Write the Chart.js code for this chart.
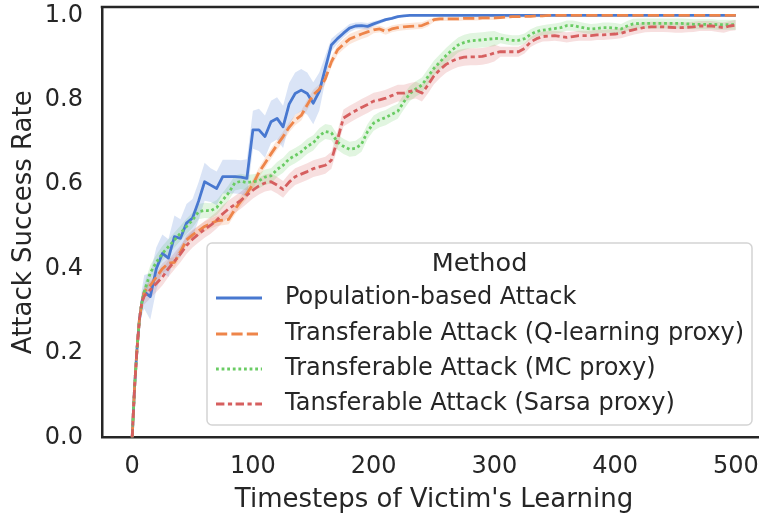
<!DOCTYPE html>
<html>
<head>
<meta charset="utf-8">
<script src="https://cdn.jsdelivr.net/npm/chart.js@4.4.1/dist/chart.umd.min.js"></script>
<style>
  html, body { margin: 0; padding: 0; background: #ffffff; overflow: hidden; }
  #wrap { width: 790px; height: 518px; }
</style>
</head>
<body>
<div id="wrap"><canvas id="chart" width="790" height="518"></canvas></div>
<script>
// Timesteps at which the attack success rate was measured
const steps = [0, 2, 4, 6, 8,
  10, 15, 20, 25, 30, 35, 40, 45, 50, 55, 60, 65, 70, 75, 80, 85, 90, 95, 100,
  105, 110, 115, 120, 125, 130, 135, 140, 145, 150, 155, 160, 165, 170, 175, 180, 185, 190, 195, 200,
  205, 210, 215, 220, 225, 230, 235, 240, 245, 250, 255, 260, 265, 270, 275, 280, 285, 290, 295, 300,
  305, 310, 315, 320, 325, 330, 335, 340, 345, 350, 355, 360, 365, 370, 375, 380, 385, 390, 395, 400,
  405, 410, 415, 420, 425, 430, 435, 440, 445, 450, 455, 460, 465, 470, 475, 480, 485, 490, 495, 500];

const methods = [
  'Population-based Attack',
  'Transferable Attack (Q-learning proxy)',
  'Transferable Attack (MC proxy)',
  'Tansferable Attack (Sarsa proxy)'
];

// Mean success rate per method
const populationMean = [0, 0.12, 0.21, 0.28, 0.32,
  0.345, 0.334, 0.40, 0.436, 0.425, 0.476, 0.472, 0.508, 0.52, 0.56,
  0.606, 0.598, 0.59, 0.618, 0.618, 0.618, 0.617, 0.614, 0.729, 0.729,
  0.713, 0.748, 0.756, 0.736, 0.79, 0.815, 0.823, 0.815, 0.792, 0.82,
  0.875, 0.93, 0.945, 0.958, 0.97, 0.975, 0.976, 0.974, 0.98, 0.985,
  0.99, 0.993, 0.997, 0.999,
  1, 1, 1, 1, 1, 1, 1, 1, 1, 1, 1,
  1, 1, 1, 1, 1, 1, 1, 1, 1, 1, 1,
  1, 1, 1, 1, 1, 1, 1, 1, 1, 1, 1,
  1, 1, 1, 1, 1, 1, 1, 1, 1, 1, 1,
  1, 1, 1, 1, 1, 1, 1, 1, 1, 1, 1];

const qLearningMean = [0, 0.12, 0.21, 0.28, 0.32,
  0.345, 0.36, 0.38, 0.40, 0.413, 0.415, 0.44, 0.468, 0.48, 0.49,
  0.50, 0.507, 0.513, 0.515, 0.517, 0.54, 0.56, 0.578, 0.60, 0.628,
  0.65, 0.672, 0.693, 0.713, 0.735, 0.752, 0.763, 0.788, 0.812, 0.825,
  0.85, 0.89, 0.918, 0.932, 0.944, 0.95, 0.956, 0.961, 0.966, 0.968,
  0.962, 0.968, 0.971, 0.973, 0.974, 0.975, 0.976, 0.982, 0.99, 0.992,
  0.992, 0.992, 0.992, 0.993, 0.993, 0.993, 0.994, 0.994, 0.994, 0.995,
  0.996, 0.997, 0.997, 0.998, 0.998, 0.999, 0.999,
  1, 1, 1, 1, 1, 1, 1, 1,
  1, 1, 1, 1, 1, 1, 1, 1,
  1, 1, 1, 1, 1, 1, 1, 1,
  1, 1, 1, 1, 1, 1, 1, 1];

const mcMean = [0, 0.12, 0.21, 0.28, 0.32,
  0.345, 0.39, 0.415, 0.436, 0.452, 0.468, 0.484, 0.5, 0.515, 0.535,
  0.538, 0.537, 0.545, 0.562, 0.58, 0.603, 0.607, 0.604, 0.606, 0.608,
  0.617, 0.62, 0.635, 0.645, 0.66, 0.668, 0.677, 0.69, 0.698, 0.715,
  0.725, 0.722, 0.70, 0.69, 0.683, 0.685, 0.695, 0.725, 0.745, 0.753,
  0.758, 0.766, 0.773, 0.795, 0.815, 0.826, 0.835, 0.855, 0.875, 0.89,
  0.905, 0.918, 0.93, 0.936, 0.94, 0.941, 0.942, 0.944, 0.945, 0.946,
  0.943, 0.941, 0.941, 0.945, 0.955, 0.962, 0.965, 0.967, 0.969, 0.971,
  0.976, 0.976, 0.973, 0.97, 0.968, 0.969, 0.971, 0.971, 0.97, 0.968,
  0.975, 0.98, 0.981, 0.981, 0.981, 0.981, 0.981, 0.981, 0.981, 0.981,
  0.98, 0.979, 0.979, 0.979, 0.979, 0.978, 0.978, 0.978, 0.978];

const sarsaMean = [0, 0.12, 0.21, 0.28, 0.32,
  0.335, 0.35, 0.365, 0.38, 0.40, 0.418, 0.435, 0.455, 0.47, 0.482,
  0.493, 0.503, 0.515, 0.53, 0.542, 0.552, 0.562, 0.574, 0.586, 0.596,
  0.603, 0.606, 0.598, 0.588, 0.605, 0.618, 0.624, 0.63, 0.637, 0.641,
  0.645, 0.657, 0.705, 0.757, 0.766, 0.774, 0.782, 0.789, 0.797, 0.80,
  0.804, 0.81, 0.816, 0.816, 0.82, 0.823, 0.816, 0.835, 0.857, 0.872,
  0.884, 0.892, 0.898, 0.901, 0.902, 0.902, 0.903, 0.906, 0.911, 0.914,
  0.914, 0.914, 0.914, 0.922, 0.937, 0.945, 0.95, 0.951, 0.952, 0.95,
  0.948, 0.95, 0.952, 0.952, 0.952, 0.954, 0.954, 0.955, 0.956, 0.958,
  0.962, 0.966, 0.969, 0.972, 0.973, 0.973, 0.973, 0.972, 0.971, 0.971,
  0.972, 0.973, 0.975, 0.975, 0.975, 0.973, 0.971, 0.975, 0.977];

// Half-width of the confidence band around each mean
const populationCi = [0, 0.005, 0.01, 0.02, 0.03,
  0.04, 0.055, 0.05, 0.045, 0.045, 0.05, 0.045, 0.045, 0.045, 0.045,
  0.045, 0.04, 0.04, 0.04, 0.04, 0.04, 0.04, 0.045, 0.045, 0.05,
  0.05, 0.05, 0.05, 0.05, 0.05, 0.05, 0.05, 0.05, 0.05, 0.045,
  0.03, 0.015, 0.012, 0.01, 0.01, 0.008, 0.008, 0.008, 0.006, 0.005,
  0.004, 0.003, 0.002, 0.001,
  0, 0, 0, 0, 0, 0, 0, 0, 0, 0, 0,
  0, 0, 0, 0, 0, 0, 0, 0, 0, 0, 0,
  0, 0, 0, 0, 0, 0, 0, 0, 0, 0, 0,
  0, 0, 0, 0, 0, 0, 0, 0, 0, 0, 0,
  0, 0, 0, 0, 0, 0, 0, 0, 0, 0, 0];

const qLearningCi = [0, 0.005, 0.01, 0.012, 0.012,
  0.012, 0.012, 0.012, 0.012, 0.012, 0.012, 0.012, 0.012, 0.012, 0.012,
  0.012, 0.012, 0.012, 0.012, 0.012, 0.012, 0.012, 0.012, 0.012, 0.012,
  0.012, 0.012, 0.012, 0.012, 0.012, 0.012, 0.012, 0.012, 0.012, 0.012,
  0.012, 0.012, 0.012, 0.012, 0.012, 0.012, 0.012, 0.012,
  0.008, 0.008, 0.008, 0.008, 0.008, 0.008, 0.008, 0.008, 0.008, 0.008,
  0.005, 0.005, 0.005, 0.005, 0.005, 0.005, 0.005, 0.005, 0.005, 0.005, 0.005,
  0.003, 0.003, 0.003, 0.003, 0.003, 0.003, 0.003, 0.003,
  0, 0, 0, 0, 0, 0, 0, 0,
  0, 0, 0, 0, 0, 0, 0, 0,
  0, 0, 0, 0, 0, 0, 0, 0,
  0, 0, 0, 0, 0, 0, 0, 0];

const mcCi = [0, 0.005, 0.01, 0.012, 0.015,
  0.018, 0.018, 0.018, 0.018, 0.018, 0.018, 0.018, 0.018, 0.018, 0.018,
  0.018, 0.018, 0.018, 0.018, 0.018, 0.018, 0.018, 0.018, 0.018, 0.018,
  0.018, 0.018, 0.018, 0.018, 0.018, 0.018, 0.018, 0.018, 0.018, 0.018,
  0.018, 0.018, 0.018, 0.018, 0.018, 0.018, 0.018, 0.018, 0.018, 0.018,
  0.018, 0.018, 0.018, 0.018, 0.018, 0.018, 0.018, 0.018, 0.018, 0.018,
  0.018, 0.018, 0.018, 0.018, 0.018, 0.018, 0.018, 0.018, 0.018,
  0.012, 0.012, 0.012, 0.012, 0.012, 0.012, 0.012, 0.012, 0.012, 0.012,
  0.012, 0.012, 0.012, 0.012, 0.012, 0.012, 0.012, 0.012, 0.012, 0.012,
  0.012, 0.012, 0.012, 0.012, 0.012, 0.012, 0.012, 0.012, 0.012, 0.012,
  0.012, 0.012, 0.012, 0.012, 0.012, 0.012, 0.012, 0.012, 0.012, 0.012];

const sarsaCi = [0, 0.005, 0.01, 0.015, 0.018,
  0.02, 0.02, 0.02, 0.02, 0.02, 0.02, 0.02, 0.02, 0.02, 0.02,
  0.02, 0.02, 0.02, 0.02, 0.02, 0.02, 0.02, 0.02, 0.02, 0.02,
  0.02, 0.02, 0.02, 0.02, 0.02, 0.02, 0.02, 0.02, 0.02, 0.02,
  0.02, 0.02, 0.02, 0.02, 0.02, 0.02, 0.02, 0.02, 0.02, 0.02,
  0.02, 0.02, 0.02, 0.02, 0.02, 0.02, 0.02, 0.02, 0.02, 0.02,
  0.02, 0.02, 0.02, 0.02, 0.02, 0.02, 0.02, 0.02, 0.02,
  0.012, 0.012, 0.012, 0.012, 0.012, 0.012, 0.012, 0.012, 0.012, 0.012,
  0.012, 0.012, 0.012, 0.012, 0.012, 0.012, 0.012, 0.012, 0.012, 0.012,
  0.012, 0.012, 0.012, 0.012, 0.012, 0.012, 0.012, 0.012, 0.012, 0.012,
  0.012, 0.012, 0.012, 0.012, 0.012, 0.012, 0.012, 0.012, 0.012, 0.012];

const xTicks = [0, 100, 200, 300, 400, 500];
const yTicks = [0, 0.2, 0.4, 0.6, 0.8, 1.0];
const xLabel = "Timesteps of Victim's Learning";
const yLabel = 'Attack Success Rate';
const legendTitle = 'Method';

const FONT = '"DejaVu Sans", "Liberation Sans", sans-serif';
const INK = '#262626';
const LINE_W = 2.8;

const styles = [
  { color: '#4878d0', band: 'rgba(72,120,208,0.2)',  dash: [] },
  { color: '#ee854a', band: 'rgba(238,133,74,0.2)',  dash: [4 * LINE_W, 1.5 * LINE_W] },
  { color: '#6acc64', band: 'rgba(106,204,100,0.2)', dash: [1 * LINE_W, 1 * LINE_W] },
  { color: '#d65f5f', band: 'rgba(214,95,95,0.2)',   dash: [3 * LINE_W, 1.25 * LINE_W, 1.5 * LINE_W, 1.25 * LINE_W] }
];
const means = [populationMean, qLearningMean, mcMean, sarsaMean];
const cis = [populationCi, qLearningCi, mcCi, sarsaCi];

const datasets = [];
// Mean lines: later methods drawn on top of earlier ones
means.forEach((m, i) => {
  datasets.push({
    label: methods[i],
    data: steps.map((x, k) => ({ x: x, y: m[k] })),
    borderColor: styles[i].color,
    backgroundColor: styles[i].color,
    borderWidth: LINE_W,
    borderDash: styles[i].dash,
    borderCapStyle: 'butt',
    borderJoinStyle: 'round',
    pointRadius: 0,
    fill: false,
    order: 4 - i,
    isMean: true
  });
});
// Confidence bands (upper edge, then lower edge filled up to it)
means.forEach((m, i) => {
  const upperIndex = datasets.length;
  datasets.push({
    label: methods[i] + ' upper',
    data: steps.map((x, k) => ({ x: x, y: m[k] + cis[i][k] })),
    borderWidth: 0,
    borderColor: 'rgba(0,0,0,0)',
    pointRadius: 0,
    fill: false,
    order: 20
  });
  datasets.push({
    label: methods[i] + ' lower',
    data: steps.map((x, k) => ({ x: x, y: m[k] - cis[i][k] })),
    borderWidth: 0,
    borderColor: 'rgba(0,0,0,0)',
    backgroundColor: styles[i].band,
    pointRadius: 0,
    fill: upperIndex,
    order: 20
  });
});

// Top and right spines of the axes box
const framePlugin = {
  id: 'frame',
  afterDraw(chart) {
    const { ctx, chartArea: a } = chart;
    ctx.save();
    ctx.strokeStyle = INK;
    ctx.lineWidth = 2.5;
    ctx.lineCap = 'square';
    ctx.beginPath();
    ctx.moveTo(a.left, a.top);
    ctx.lineTo(a.right, a.top);
    ctx.lineTo(a.right, a.bottom);
    ctx.stroke();
    ctx.restore();
  }
};

// Legend box with title, drawn inside the plot area
const legendPlugin = {
  id: 'methodLegend',
  afterDraw(chart) {
    const ctx = chart.ctx;
    const box = { x: 207, y: 243, w: 545, h: 182 };
    ctx.save();
    ctx.beginPath();
    ctx.roundRect(box.x, box.y, box.w, box.h, 5);
    ctx.fillStyle = 'rgba(255,255,255,0.8)';
    ctx.fill();
    ctx.strokeStyle = '#d4d4d4';
    ctx.lineWidth = 1.5;
    ctx.stroke();

    ctx.fillStyle = INK;
    ctx.textBaseline = 'middle';
    ctx.textAlign = 'center';
    ctx.font = '25.5px ' + FONT;
    ctx.fillText(legendTitle, box.x + box.w / 2, 264);

    const rowsY = [298, 334, 369, 404];
    ctx.textAlign = 'left';
    ctx.font = '24px ' + FONT;
    chart.data.datasets.filter(d => d.isMean).forEach((d, i) => {
      const y = rowsY[i];
      ctx.beginPath();
      ctx.setLineDash(d.borderDash);
      ctx.strokeStyle = d.borderColor;
      ctx.lineWidth = LINE_W;
      ctx.lineCap = 'butt';
      ctx.moveTo(216, y);
      ctx.lineTo(262, y);
      ctx.stroke();
      ctx.setLineDash([]);
      ctx.fillStyle = INK;
      ctx.fillText(d.label, 285, y);
    });
    ctx.restore();
  }
};

new Chart(document.getElementById('chart'), {
  type: 'line',
  data: { datasets: datasets },
  options: {
    responsive: false,
    animation: false,
    devicePixelRatio: 1,
    layout: { padding: { top: 7, right: 24, left: 0, bottom: 0 } },
    plugins: { legend: { display: false }, tooltip: { enabled: false } },
    elements: { line: { tension: 0 }, point: { radius: 0 } },
    scales: {
      x: {
        type: 'linear',
        min: -25,
        max: 525,
        grid: { display: false, drawTicks: false },
        border: { display: true, color: INK, width: 2.5 },
        afterBuildTicks: s => { s.ticks = xTicks.map(v => ({ value: v })); },
        afterFit: s => { s.height = 80.5; s.paddingLeft = 0; s.paddingRight = 0; },
        ticks: {
          padding: 15, color: INK, autoSkip: false, maxRotation: 0,
          font: { family: FONT, size: 24 },
          callback: v => String(v)
        },
        title: {
          display: true, text: xLabel, color: INK,
          font: { family: FONT, size: 26 },
          padding: { top: 0, bottom: 2 }
        }
      },
      y: {
        type: 'linear',
        min: 0,
        max: 1.02,
        grid: { display: false, drawTicks: false },
        border: { display: true, color: INK, width: 2.5 },
        afterBuildTicks: s => { s.ticks = yTicks.map(v => ({ value: v })); },
        afterFit: s => { s.width = 102; s.paddingTop = 0; s.paddingBottom = 0; },
        ticks: {
          padding: 19, color: INK, autoSkip: false,
          font: { family: FONT, size: 24 },
          callback: v => v.toFixed(1)
        },
        title: {
          display: true, text: yLabel, color: INK,
          font: { family: FONT, size: 26 },
          padding: { top: 9, bottom: 0 }
        }
      }
    }
  },
  plugins: [framePlugin, legendPlugin]
});
</script>
</body>
</html>
